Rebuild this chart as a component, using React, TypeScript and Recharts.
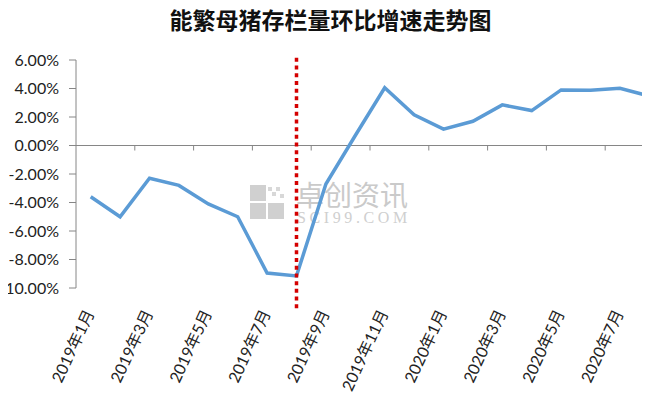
import React from 'react'
import { LineChart, Line, XAxis, YAxis, ReferenceLine } from 'recharts'

const months = [
  '2019年1月', '2019年2月', '2019年3月', '2019年4月', '2019年5月', '2019年6月',
  '2019年7月', '2019年8月', '2019年9月', '2019年10月', '2019年11月', '2019年12月',
  '2020年1月', '2020年2月', '2020年3月', '2020年4月', '2020年5月', '2020年6月',
  '2020年7月', '2020年8月',
]
const growth = [
  -3.6, -5.0, -2.3, -2.8, -4.1, -5.0, -8.95, -9.15, -2.7, 0.7,
  4.05, 2.15, 1.15, 1.7, 2.85, 2.45, 3.9, 3.87, 4.02, 3.47,
]
const yTicks = [-10, -8, -6, -4, -2, 0, 2, 4, 6]
const markerMonth = '2019年8月'
const markerRange = [6.15, -11.5]

const W = 670
const H = 402
const M = { top: 60, right: 6, left: 0, bottom: 0 }
const Y_AXIS_W = 76
const X_AXIS_H = 114
const PLOT_TOP = M.top
const PLOT_BOTTOM = H - M.bottom - X_AXIS_H
const PLOT_W = W - M.left - M.right - Y_AXIS_W
const BAND = PLOT_W / months.length
const ZERO_Y = PLOT_TOP + (yTicks[yTicks.length - 1] / (yTicks[yTicks.length - 1] - yTicks[0])) * (PLOT_BOTTOM - PLOT_TOP)

const chartData = months.map((m, i) => ({ month: m, value: growth[i] }))

const font = "Lato, 'Noto Sans CJK SC', sans-serif"

// x轴标签在底部，刻度线画在0轴上
function XTick(props: any) {
  const { x, y, payload } = props
  const bx = x - BAND / 2
  return (
    <g>
      {payload.value !== months[0] && (
        <line x1={bx} y1={ZERO_Y} x2={bx} y2={ZERO_Y + 5} stroke="#868686" strokeWidth={1} />
      )}
      <text
        x={x + 4}
        y={y + 25}
        transform={`rotate(-65, ${x + 4}, ${y + 25})`}
        textAnchor="end"
        fontSize={16}
        fontFamily={font}
        fill="#222"
      >
        {payload.value}
      </text>
    </g>
  )
}

function Watermark() {
  return (
    <div style={{ position: 'absolute', left: 250, top: 182, pointerEvents: 'none' }}>
      <svg width={40} height={40} style={{ position: 'absolute', left: 0, top: 3 }}>
        <rect x={0} y={0} width={16} height={16} fill="#d0d0d0" />
        <rect x={18} y={2} width={4} height={4} fill="#d8d8d8" />
        <rect x={26} y={2} width={4} height={4} fill="#d8d8d8" />
        <rect x={22} y={7} width={4} height={4} fill="#d8d8d8" />
        <rect x={30} y={9} width={4} height={4} fill="#d8d8d8" />
        <rect x={0} y={18} width={16} height={16} fill="#d0d0d0" />
        <rect x={18} y={18} width={16} height={16} fill="#d0d0d0" />
      </svg>
      <div style={{ position: 'absolute', left: 46, top: 0, fontSize: 28, lineHeight: '24px', color: '#cacaca', fontFamily: "'Noto Sans CJK SC'", whiteSpace: 'nowrap' }}>
        卓创资讯
      </div>
      <div style={{ position: 'absolute', left: 47, top: 29, fontSize: 16, lineHeight: '13px', letterSpacing: 3.6, color: '#cfcfcf', fontFamily: "'Liberation Serif', serif", whiteSpace: 'nowrap' }}>
        SCI99.COM
      </div>
    </div>
  )
}

export default function App() {
  return (
    <div style={{ margin: -8, width: 650, height: H, overflow: 'hidden', position: 'relative', background: '#fff' }}>
      <div style={{ position: 'absolute', left: 0, top: 8, width: 661, textAlign: 'center', fontSize: 23, lineHeight: '23px', fontWeight: 'bold', fontFamily: "'Noto Sans CJK SC', sans-serif", color: '#111' }}>
        能繁母猪存栏量环比增速走势图
      </div>
      <Watermark />
      <LineChart width={W} height={H} data={chartData} margin={M}>
        <XAxis
          dataKey="month"
          scale="band"
          height={X_AXIS_H}
          axisLine={false}
          tickLine={false}
          tickSize={0}
          tickMargin={0}
          interval={1}
          tick={<XTick />}
        />
        <YAxis
          width={Y_AXIS_W}
          domain={[yTicks[0], yTicks[yTicks.length - 1]]}
          ticks={yTicks}
          interval={0}
          tickFormatter={(v: number) => v.toFixed(2) + '%'}
          stroke="#868686"
          tickSize={7}
          tickMargin={10}
          tick={{ fontSize: 16, fontFamily: font, fill: '#222' }}
        />
        <ReferenceLine y={0} stroke="#868686" strokeWidth={1} />
        <Line
          type="linear"
          dataKey="value"
          stroke="#5b9bd5"
          strokeWidth={3.5}
          dot={false}
          isAnimationActive={false}
        />
        <ReferenceLine
          segment={[{ x: markerMonth, y: markerRange[0] }, { x: markerMonth, y: markerRange[1] }]}
          ifOverflow="visible"
          stroke="#d40000"
          strokeWidth={3.5}
          strokeDasharray="4 3.7"
        />
      </LineChart>
    </div>
  )
}
